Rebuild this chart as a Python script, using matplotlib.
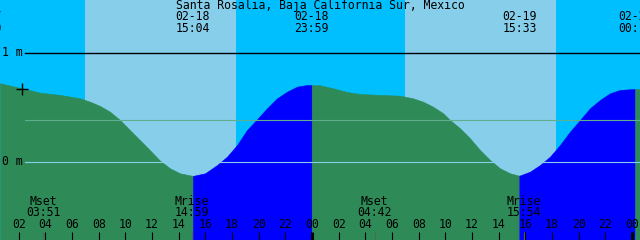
import numpy as np
import matplotlib
matplotlib.use("Agg")
import matplotlib.pyplot as plt

station = "Santa Rosalia, Baja California Sur, Mexico"

# tide curve: hours since 02-18 00:00, height in metres
hours = [0.60, 2.25, 3.60, 5.10, 6.60, 7.35, 8.10, 8.85, 9.60, 10.58, 11.63,
         12.60, 13.35, 14.10, 15.07, 15.98, 16.88, 17.63, 18.38, 19.13, 19.88,
         20.63, 21.38, 22.13, 22.88, 23.63, 23.98, 24.60, 25.58, 26.63, 27.60,
         29.10, 30.60, 31.58, 32.33, 33.08, 33.83, 34.35, 35.10, 35.85, 36.60,
         37.35, 38.10, 38.85, 39.55, 40.35, 41.10, 41.85, 42.60, 43.35, 44.10,
         44.85, 45.60, 46.35, 47.10, 48.23, 48.60]
heights = [0.722, 0.676, 0.636, 0.615, 0.584, 0.553, 0.514, 0.461, 0.385, 0.263, 0.135,
           0.012, -0.058, -0.104, -0.128, -0.104, -0.028, 0.049, 0.156, 0.294, 0.392,
           0.493, 0.584, 0.645, 0.691, 0.706, 0.706, 0.704, 0.676, 0.642, 0.624,
           0.615, 0.608, 0.584, 0.553, 0.507, 0.447, 0.385, 0.309, 0.217, 0.110,
           0.018, -0.058, -0.104, -0.126, -0.089, -0.028, 0.049, 0.156, 0.278, 0.385,
           0.493, 0.569, 0.630, 0.661, 0.670, 0.667]

# high / low tides
ext_hours = [-0.55, 15.07, 23.98, 39.55, 48.23]
ext_dates = ["02-17", "02-18", "02-18", "02-19", "02-20"]
ext_times = ["23:30", "15:04", "23:59", "15:33", "00:14"]

# moon events
moon_hours = [3.85, 14.98, 28.70, 39.90]
moon_names = ["Mset", "Mrise", "Mset", "Mrise"]
moon_times = ["03:51", "14:59", "04:42", "15:54"]

# daylight
sunrise = [6.98, 30.98]
sunset = [18.30, 42.30]

mean_level = 0.385
now_hour, now_height = 2.25, 0.667

x0, x1 = 0.6, 48.6
ybot, ytop = -0.716, 1.486

night = "#00BFFF"
day = "#87CEEB"
ebb = "#2E8B57"
flood = "#0000FF"

def py(p):
    # pixel row -> metres
    return (162 - p) / 109.0

plt.rcParams["font.family"] = ["DejaVu Sans Mono"]
fs = 8.3

fig = plt.figure(figsize=(6.4, 2.4), dpi=100)
ax = fig.add_axes([0, 0, 1, 1])
ax.set_xlim(x0, x1)
ax.set_ylim(ybot, ytop)
ax.axis("off")
ax.add_patch(plt.Rectangle((0, 0), 1, 1, transform=ax.transAxes, color=night, zorder=0))

for a, b in zip(sunrise, sunset):
    ax.axvspan(a, b, color=day, lw=0, zorder=1)

h = np.array(hours)
z = np.array(heights)
bounds = [h[0]] + [t for t in ext_hours if h[0] < t < h[-1]] + [h[-1]]
for a, b in zip(bounds[:-1], bounds[1:]):
    m = (h >= a) & (h <= b)
    rising = z[m][-1] > z[m][0]
    ax.fill_between(h[m], z[m], ybot, color=flood if rising else ebb, lw=0.4,
                    edgecolor=flood if rising else ebb, zorder=2)

ax.axhline(1.0, xmin=25 / 640, color="black", lw=1.0, zorder=3)
ax.axhline(mean_level, xmin=25 / 640, color="#5FAF8F", lw=0.8, zorder=3)
ax.axhline(0.0, xmin=25 / 640, color=day, lw=0.8, zorder=3)

ax.plot([now_hour], [now_height], marker="+", color="black", ms=9, mew=1, zorder=4)

ax.text(2 / 640, 1.0, "1 m", transform=ax.get_yaxis_transform(), fontsize=fs,
        va="center", ha="left")
ax.text(2 / 640, 0.0, "0 m", transform=ax.get_yaxis_transform(), fontsize=fs,
        va="center", ha="left")

ax.text((x0 + x1) / 2, py(6), station, fontsize=fs, ha="center", va="center", zorder=5)
for t, d, s in zip(ext_hours, ext_dates, ext_times):
    ax.text(t, py(17), d, fontsize=fs, ha="center", va="center", zorder=5)
    ax.text(t, py(29), s, fontsize=fs, ha="center", va="center", zorder=5)

for t, n, s in zip(moon_hours, moon_names, moon_times):
    ax.text(t, py(202), n, fontsize=fs, ha="center", va="center", zorder=5)
    ax.text(t, py(213), s, fontsize=fs, ha="center", va="center", zorder=5)
    ax.vlines(t, py(240), py(232), color="#4a6a5a", lw=0.8, zorder=4)

for hr in range(2, 49, 2):
    lab = "%02d" % (hr % 24)
    ax.text(hr, py(225), lab, fontsize=fs, ha="center", va="center", zorder=5)
    ax.vlines(hr, py(240), py(232), color="black", lw=2.2 if hr % 24 == 0 else 0.8, zorder=4)

fig.savefig("out.png", dpi=100)
